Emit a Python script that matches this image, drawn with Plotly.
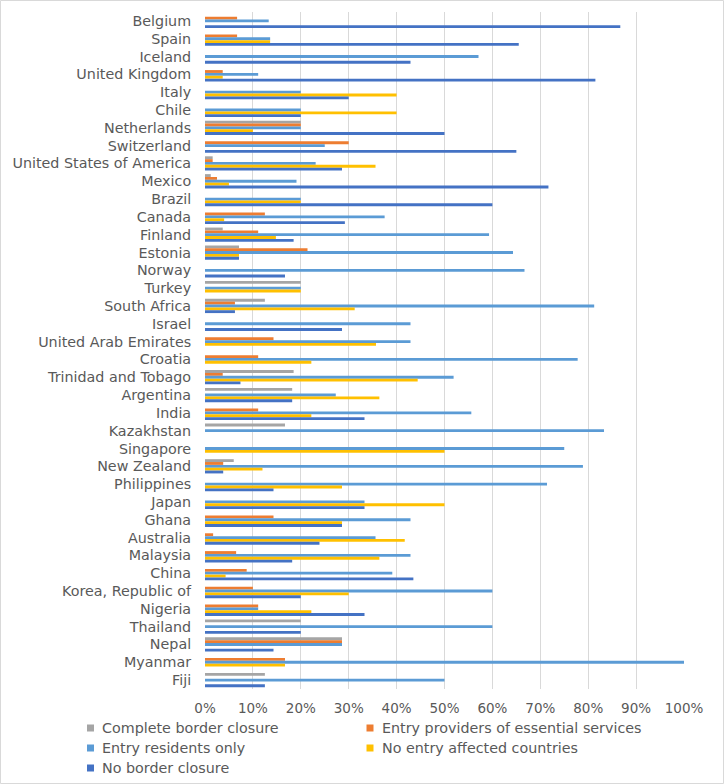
import plotly.graph_objects as go

countries = ["Belgium", "Spain", "Iceland", "United Kingdom", "Italy", "Chile", "Netherlands",
             "Switzerland", "United States of America", "Mexico", "Brazil", "Canada", "Finland",
             "Estonia", "Norway", "Turkey", "South Africa", "Israel", "United Arab Emirates",
             "Croatia", "Trinidad and Tobago", "Argentina", "India", "Kazakhstan", "Singapore",
             "New Zealand", "Philippines", "Japan", "Ghana", "Australia", "Malaysia", "China",
             "Korea, Republic of", "Nigeria", "Thailand", "Nepal", "Myanmar", "Fiji"]

complete_closure = [0, 0, 0, 0, 0, 0, 0.2, 0, 0.016, 0.012, 0, 0, 0.037, 0.071, 0, 0.2, 0.125, 0,
                    0, 0, 0.185, 0.182, 0, 0.167, 0, 0.06, 0, 0, 0, 0, 0, 0, 0, 0, 0.2, 0.286, 0, 0.125]
entry_providers = [0.067, 0.067, 0, 0.037, 0, 0, 0.2, 0.3, 0.016, 0.025, 0, 0.125, 0.111, 0.214, 0, 0,
                   0.0625, 0, 0.143, 0.111, 0.037, 0, 0.111, 0, 0, 0.038, 0, 0, 0.143, 0.017, 0.065,
                   0.087, 0.1, 0.111, 0, 0.286, 0.167, 0]
entry_residents = [0.133, 0.136, 0.571, 0.111, 0.2, 0.2, 0.2, 0.25, 0.231, 0.191, 0.2, 0.375, 0.593,
                   0.643, 0.667, 0.2, 0.8125, 0.429, 0.429, 0.778, 0.519, 0.273, 0.556, 0.833, 0.75,
                   0.789, 0.714, 0.333, 0.429, 0.356, 0.429, 0.391, 0.6, 0.111, 0.6, 0.286, 1.0, 0.5]
no_entry_affected = [0, 0.136, 0, 0.037, 0.4, 0.4, 0.1, 0, 0.356, 0.05, 0.2, 0.04, 0.148, 0.071, 0,
                     0.2, 0.3125, 0, 0.357, 0.222, 0.444, 0.364, 0.222, 0, 0.5, 0.12, 0.286, 0.5,
                     0.286, 0.417, 0.364, 0.043, 0.3, 0.222, 0, 0, 0.167, 0]
no_closure = [0.867, 0.655, 0.429, 0.815, 0.3, 0.2, 0.5, 0.65, 0.286, 0.717, 0.6, 0.292, 0.185, 0.071,
              0.167, 0, 0.0625, 0.286, 0, 0, 0.074, 0.182, 0.333, 0, 0, 0.038, 0.143, 0.333, 0.286,
              0.239, 0.182, 0.435, 0.2, 0.333, 0.2, 0.143, 0, 0.125]

series = [
    ("Complete border closure", complete_closure, "#A5A5A5"),
    ("Entry providers of essential services", entry_providers, "#ED7D31"),
    ("Entry residents only", entry_residents, "#5B9BD5"),
    ("No entry affected countries", no_entry_affected, "#FFC000"),
    ("No border closure", no_closure, "#4472C4"),
]

fig = go.Figure()
for name, vals, col in series:
    fig.add_trace(go.Bar(y=countries, x=vals, name=name, orientation="h", showlegend=False,
                         marker=dict(color=col, line=dict(width=0))))

W, H = 724, 784
ml, mr, mt, mb = 205, 40, 12, 95
pw, ph = W - ml - mr, H - mt - mb
font_col = "#595959"
fam = "DejaVu Sans, Verdana, sans-serif"


def px_x(px):
    return (px - ml) / pw


def px_y(py):
    return (H - mb - py) / ph


# key (two columns, three rows) drawn as text + small squares, laid out like the original
col_text_x = [100, 379.5]
row_y = [728, 748, 768]
annotations, shapes = [], []
for i, (name, vals, col) in enumerate(series):
    cx = col_text_x[i % 2]
    cy = row_y[i // 2]
    annotations.append(dict(text=name, xref="paper", yref="paper", x=px_x(cx), y=px_y(cy),
                            xanchor="left", yanchor="middle", showarrow=False,
                            font=dict(family=fam, size=14.3, color=font_col)))
    shapes.append(dict(type="rect", xref="paper", yref="paper",
                       x0=px_x(cx - 13), x1=px_x(cx - 6), y0=px_y(cy + 3.5), y1=px_y(cy - 3.5),
                       fillcolor=col, line=dict(width=0)))

shapes.append(dict(type="rect", xref="paper", yref="paper",
                   x0=(-ml + 0.5) / pw, x1=(W - ml - 0.5) / pw,
                   y0=(-mb + 0.5) / ph, y1=(H - mb - 0.5) / ph,
                   line=dict(color="#D9D9D9", width=1), fillcolor="rgba(0,0,0,0)", layer="below"))

fig.update_layout(
    width=W, height=H,
    margin=dict(l=ml, r=mr, t=mt, b=mb),
    paper_bgcolor="white", plot_bgcolor="white",
    barmode="group", bargap=0.2, bargroupgap=0,
    font=dict(family=fam, size=13, color=font_col),
    showlegend=False,
    xaxis=dict(range=[0, 1], dtick=0.1, tickformat=".0%", showgrid=True, gridcolor="#D9D9D9",
               gridwidth=1, zeroline=False, showline=False, ticks="outside", ticklen=7,
               tickcolor="rgba(0,0,0,0)", fixedrange=True,
               tickfont=dict(family=fam, size=13.5, color=font_col)),
    yaxis=dict(autorange="reversed", showgrid=False, zeroline=False, showline=False,
               ticks="outside", ticklen=10, tickcolor="rgba(0,0,0,0)", fixedrange=True,
               tickfont=dict(family=fam, size=14.3, color=font_col)),
    annotations=annotations,
    shapes=shapes,
)

fig.write_html("out.html", config={"displayModeBar": False},
               post_script="document.body.style.margin='0';document.body.style.overflow='hidden';")
